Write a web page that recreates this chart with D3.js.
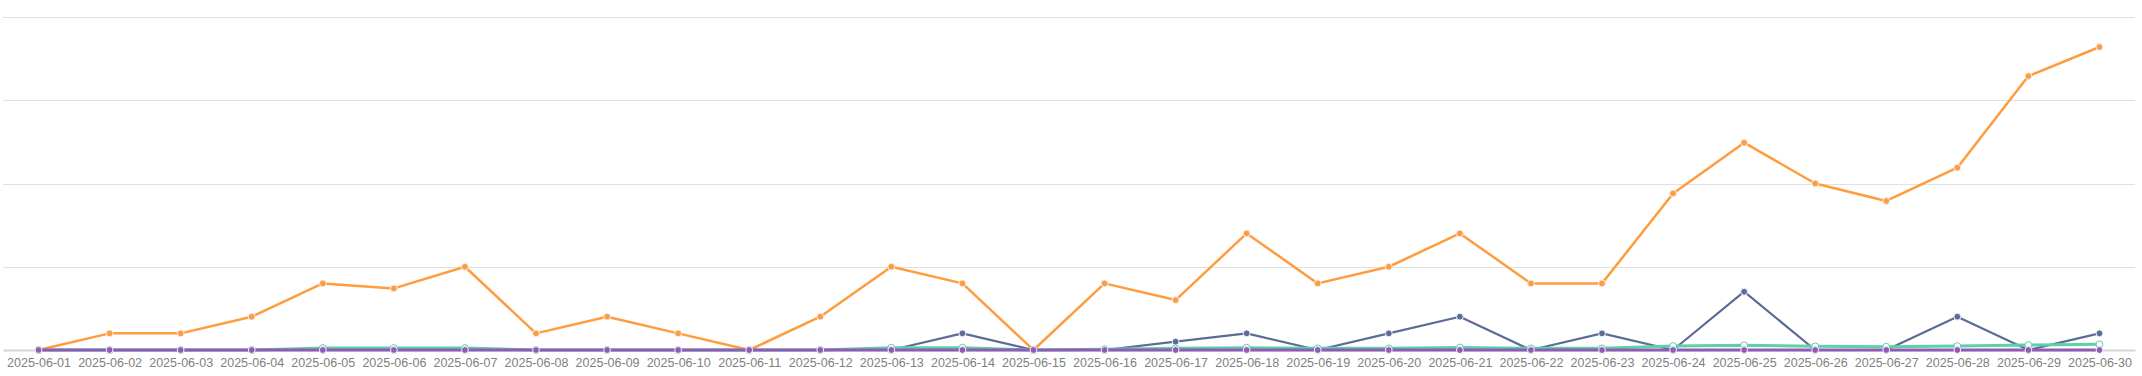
<!DOCTYPE html>
<html>
<head>
<meta charset="utf-8">
<script src="https://cdn.jsdelivr.net/npm/d3@7/dist/d3.min.js"></script>
<style>
  body { margin: 0; background: #fff; }
  svg { display: block; }
</style>
</head>
<body>
<div id="app"></div>
<script>
/* global d3 */

// Data
const dates = [
  '2025-06-01', '2025-06-02', '2025-06-03', '2025-06-04', '2025-06-05',
  '2025-06-06', '2025-06-07', '2025-06-08', '2025-06-09', '2025-06-10',
  '2025-06-11', '2025-06-12', '2025-06-13', '2025-06-14', '2025-06-15',
  '2025-06-16', '2025-06-17', '2025-06-18', '2025-06-19', '2025-06-20',
  '2025-06-21', '2025-06-22', '2025-06-23', '2025-06-24', '2025-06-25',
  '2025-06-26', '2025-06-27', '2025-06-28', '2025-06-29', '2025-06-30',
];
const orangeValues = [0, 1, 1, 2, 4, 3.7, 5, 1, 2, 1, 0, 2, 5, 4, 0,
  4, 3, 7, 4, 5, 7, 4, 4, 9.4, 12.45, 10, 8.95, 10.95, 16.45, 18.2];
const blueValues = [0, 0, 0, 0, 0, 0, 0, 0, 0, 0, 0, 0, 0, 1, 0,
  0, 0.5, 1, 0, 1, 2, 0, 1, 0, 3.5, 0, 0, 2, 0, 1];
const greenValues = [0, 0, 0, 0, 0.12, 0.12, 0.12, 0, 0, 0, 0, 0, 0.14, 0.14, 0,
  0.05, 0.1, 0.14, 0.1, 0.1, 0.15, 0.1, 0.1, 0.24, 0.28, 0.22, 0.2, 0.24, 0.3, 0.34];
const purpleValues = dates.map(() => 0);
const yTicks = [0, 5, 10, 15, 20];

const series = [
  { name: 'orange', values: orangeValues, color: '#ff9c3d', width: 2.5 },
  { name: 'blue', values: blueValues, color: '#5a6d96', width: 2.2 },
  { name: 'green', values: greenValues, color: '#5dd0a7', width: 3 },
  { name: 'purple', values: purpleValues, color: '#8e5cb6', width: 3 },
];

// Constants
const width = 2142;
const height = 376;
const margin = ({ top: 17, right: 7, bottom: 26, left: 3 });
const plotBottom = height - margin.bottom;

const svg = d3.select('#app')
  .append('svg')
  .attr('width', width)
  .attr('height', height);

const xScale = d3.scalePoint()
  .domain(dates)
  .range([margin.left, width - margin.right])
  .padding(0.5);

const yScale = d3.scaleLinear()
  .domain([0, 20])
  .range([plotBottom, margin.top]);

// Gridlines
svg.append('g')
  .selectAll('line')
  .data(yTicks.slice(1))
  .join('line')
  .attr('x1', margin.left)
  .attr('x2', width - margin.right)
  .attr('y1', (d) => Math.round(yScale(d)) + 0.5)
  .attr('y2', (d) => Math.round(yScale(d)) + 0.5)
  .attr('stroke', '#e0e0e0')
  .attr('stroke-width', 1);

// X axis
const xAxis = d3.axisBottom(xScale).tickSize(0).tickPadding(8);
const xg = svg.append('g')
  .attr('transform', `translate(0, ${plotBottom})`)
  .call(xAxis);
xg.select('.domain')
  .attr('stroke', '#d6d6d6')
  .attr('stroke-width', 2);
xg.selectAll('text')
  .attr('fill', '#808080')
  .style('font-family', '"Liberation Sans", Arial, sans-serif')
  .style('font-size', '12.5px');

// Lines
const line = d3.line()
  .x((d, i) => xScale(dates[i]))
  .y((d) => yScale(d));

series.forEach((s) => {
  const g = svg.append('g').attr('class', s.name);
  g.append('path')
    .datum(s.values)
    .attr('d', line)
    .attr('fill', 'none')
    .attr('stroke', s.color)
    .attr('stroke-width', s.width)
    .attr('stroke-linejoin', 'round');
  g.selectAll('circle')
    .data(s.values)
    .join('circle')
    .attr('cx', (d, i) => xScale(dates[i]))
    .attr('cy', (d) => yScale(d))
    .attr('r', 3.4)
    .attr('fill', s.name === 'green' ? '#ffffff' : s.color)
    .attr('stroke', s.name === 'green' ? s.color : '#f4eefa')
    .attr('stroke-width', 1);
});
</script>
</body>
</html>
